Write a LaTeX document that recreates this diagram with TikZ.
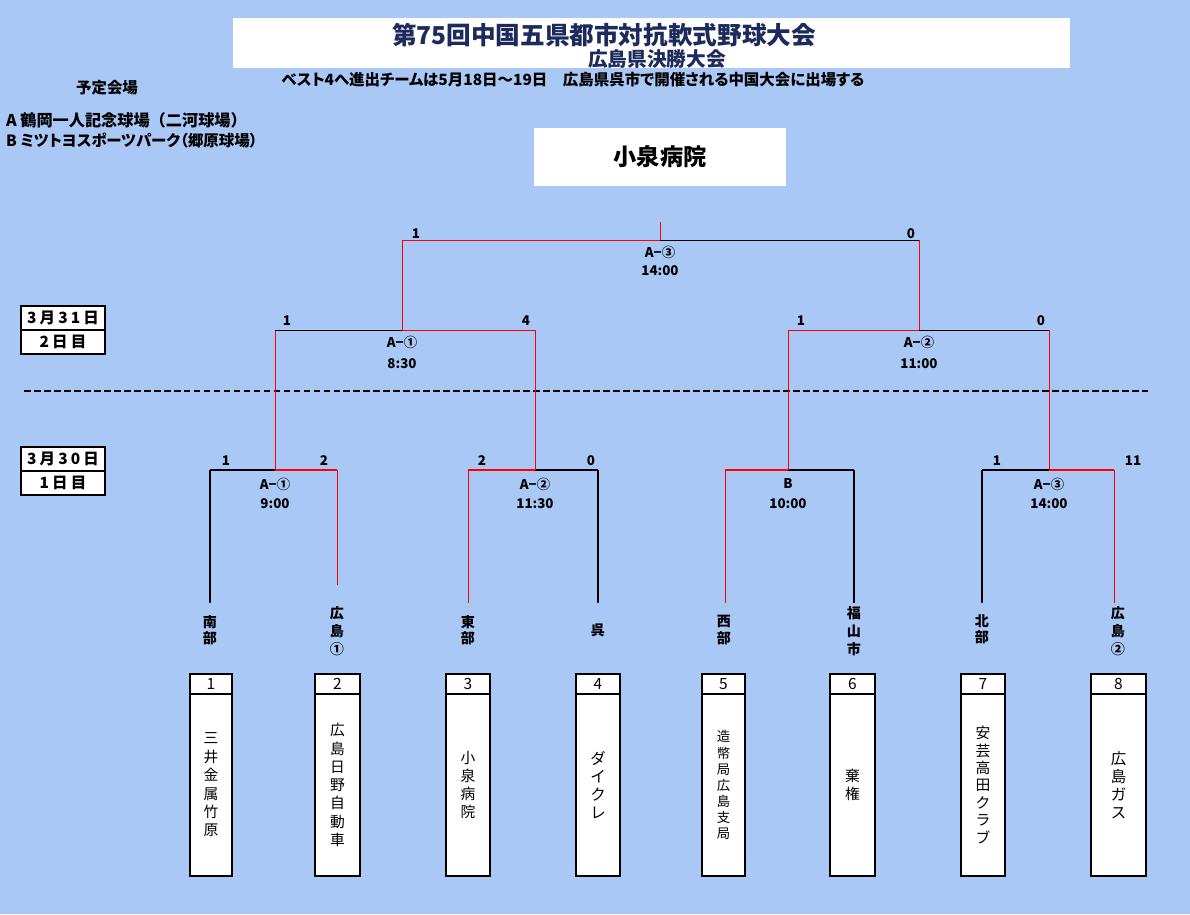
\documentclass[tikz,border=0pt]{standalone}
\usepackage{fontspec}
\usepackage{graphicx}
\setmainfont{Noto Sans CJK JP}
\newfontfamily\jpp{Noto Sans CJK JP}[RawFeature=+palt]
\newfontfamily\jpls{Noto Sans CJK JP}[LetterSpace=20]
\definecolor{bgblue}{RGB}{170,200,246}
\definecolor{navy}{RGB}{28,42,92}
\begin{document}
\begin{tikzpicture}[x=0.025cm,y=-0.025cm,
  every node/.style={inner sep=0pt,outer sep=0pt},
  bft/.style={font=\bfseries\fontsize{#1}{#1}\selectfont},
  sc/.style={font=\bfseries\fontsize{9.5}{9.5}\selectfont},
  ml/.style={font=\bfseries\fontsize{9.5}{9.5}\selectfont},
  vlab/.style={align=center,font=\bfseries\fontsize{10}{#1}\selectfont},
  hw/.style={draw=red,line width=1.3pt},
  hl/.style={draw=black,line width=1.3pt},
  vw/.style={draw=red,line width=0.7pt},
  vl/.style={draw=black,line width=0.8pt},
  vlt/.style={draw=black,line width=1.3pt},
  tw/.style={draw=red,line width=0.7pt},
  tl/.style={draw=black,line width=0.7pt},
  teambox/.style={draw=black,line width=1.2pt,fill=white},
  datebox/.style={draw=black,line width=1.2pt,fill=white,minimum width=2.1cm,minimum height=0.59cm,font=\jpls\bfseries\fontsize{11}{11}\selectfont},
]
\useasboundingbox (0,0) rectangle (1190,914);
\fill[bgblue] (0,0) rectangle (1190,914);

% title block
\fill[white] (233,18) rectangle (1070,68);
\node[bft=17.5,text=navy] (title) at (604,35) {第75回中国五県都市対抗軟式野球大会};
\node[bft=14,text=navy] (subtitle) at (657,59) {広島県決勝大会};
\node[font=\jpp\bfseries\fontsize{11}{11}\selectfont] (note) at (573,80) {ベスト4へ進出チームは5月18日～19日　広島県呉市で開催される中国大会に出場する};

% venues
\node[bft=11] (venue) at (107,88) {予定会場};
\node[anchor=west,bft=11.5] (venueA) at (6,120) {A 鶴岡一人記念球場（二河球場）};
\node[anchor=west,font=\jpp\bfseries\fontsize{11}{11}\selectfont] (venueB) at (6,141) {B ミツトヨスポーツパーク（郷原球場）};

% champion
\node[fill=white,minimum width=6.3cm,minimum height=1.45cm,bft=16.5] (champ) at (660,157) {小泉病院};

% date boxes
\node[datebox] (d2a) at (63,318) {3月31日};
\node[datebox] (d2b) at (63,342) {2日目};
\node[datebox] (d1a) at (63,459) {3月30日};
\node[datebox] (d1b) at (63,483) {1日目};

% dashed separator
\coordinate (dashL) at (24,391);
\coordinate (dashR) at (1148,391);
\draw[line width=1.2pt,dash pattern=on 4.8pt off 2.3pt] (dashL) -- (dashR);

% team line ends
\coordinate (t1) at (210,603);
\coordinate (t2) at (337,585);
\coordinate (t3) at (468,603);
\coordinate (t4) at (598,603);
\coordinate (t5) at (725,603);
\coordinate (t6) at (854,603);
\coordinate (t7) at (982,603);
\coordinate (t8) at (1114,603);

% round 1
\coordinate (a1L) at (210,470); \coordinate (a1C) at (275,470); \coordinate (a1R) at (337,470);
\coordinate (a2L) at (468,470); \coordinate (a2C) at (535,470); \coordinate (a2R) at (598,470);
\coordinate (a3L) at (725,470); \coordinate (a3C) at (788,470); \coordinate (a3R) at (854,470);
\coordinate (a4L) at (982,470); \coordinate (a4C) at (1049,470); \coordinate (a4R) at (1114,470);

\draw[vl] (a1L) -- (t1); \draw[vw] (a1R) -- (t2);
\draw[hl] (a1L) -- (a1C); \draw[hw] (a1C) -- (a1R);
\draw[vw] (a2L) -- (t3); \draw[vlt] (a2R) -- (t4);
\draw[hw] (a2L) -- (a2C); \draw[hl] (a2C) -- (a2R);
\draw[vw] (a3L) -- (t5); \draw[vl] (a3R) -- (t6);
\draw[hw] (a3L) -- (a3C); \draw[hl] (a3C) -- (a3R);
\draw[vl] (a4L) -- (t7); \draw[vw] (a4R) -- (t8);
\draw[hl] (a4L) -- (a4C); \draw[hw] (a4C) -- (a4R);

% round 2
\coordinate (b1L) at (275,330); \coordinate (b1C) at (402,330); \coordinate (b1R) at (535,330);
\coordinate (b2L) at (788,330); \coordinate (b2C) at (919,330); \coordinate (b2R) at (1049,330);
\draw[vw] (a1C) -- (b1L); \draw[vw] (a2C) -- (b1R);
\draw[tl] (b1L) -- (b1C); \draw[tw] (b1C) -- (b1R);
\draw[vw] (a3C) -- (b2L); \draw[vw] (a4C) -- (b2R);
\draw[tw] (b2L) -- (b2C); \draw[tl] (b2C) -- (b2R);

% final
\coordinate (cL) at (402,240); \coordinate (cC) at (660,240); \coordinate (cR) at (919,240);
\coordinate (cT) at (660,222);
\draw[vw] (b1C) -- (cL); \draw[vw] (b2C) -- (cR);
\draw[tw] (cL) -- (cC); \draw[tl] (cC) -- (cR); \draw[tw] (cC) -- (cT);

% scores
\node[sc] (sF1) at (416,234) {1};
\node[sc] (sF2) at (911,234) {0};
\node[sc] (s21) at (287,321) {1};
\node[sc] (s22) at (526,321) {4};
\node[sc] (s23) at (801,321) {1};
\node[sc] (s24) at (1041,321) {0};
\node[sc] (s11) at (226,461) {1};
\node[sc] (s12) at (324,461) {2};
\node[sc] (s13) at (482,461) {2};
\node[sc] (s14) at (591,461) {0};
\node[sc] (s17) at (997,461) {1};
\node[sc] (s18) at (1133,461) {11};

% match labels
\node[ml] (mF) at (660,252) {A−③};
\node[ml] (mFt) at (660,271) {14:00};
\node[ml] (m21) at (402,342) {A−①};
\node[ml] (m21t) at (402,364) {8:30};
\node[ml] (m22) at (919,342) {A−②};
\node[ml] (m22t) at (919,364) {11:00};
\node[ml] (m11) at (275,484) {A−①};
\node[ml] (m11t) at (275,504) {9:00};
\node[ml] (m12) at (535,484) {A−②};
\node[ml] (m12t) at (535,504) {11:30};
\node[ml] (m13) at (788,484) {B};
\node[ml] (m13t) at (788,504) {10:00};
\node[ml] (m14) at (1049,484) {A−③};
\node[ml] (m14t) at (1049,504) {14:00};

% area labels
\node[vlab=11] (l1) at (210,630) {南\\部};
\node[vlab=12.6] (l2) at (337,631) {広\\島\\①};
\node[vlab=11] (l3) at (468,630) {東\\部};
\node[bft=10] (l4) at (598,630) {呉};
\node[vlab=12] (l5) at (724,630) {西\\部};
\node[vlab=12.6] (l6) at (854,631) {福\\山\\市};
\node[vlab=11.5] (l7) at (982,629) {北\\部};
\node[vlab=12.6] (l8) at (1118,631) {広\\島\\②};

% team boxes
\foreach \n/\xl/\xr/\fs/\sk/\txt in {
  1/190/232/10.5/13.1/{三\\井\\金\\属\\竹\\原},
  2/315/360/10.5/13/{広\\島\\日\\野\\自\\動\\車},
  3/446/490/10.5/12.9/{小\\泉\\病\\院},
  4/576/620/11/12.9/{ダ\\イ\\ク\\レ},
  5/702/745/9.5/11.4/{造\\幣\\局\\広\\島\\支\\局},
  6/830/875/10.5/12.9/{棄\\権},
  7/961/1005/10.5/12.4/{安\\芸\\高\\田\\ク\\ラ\\ブ},
  8/1091/1146/11/12.9/{広\\島\\ガ\\ス}}{
  \draw[teambox] (\xl,674) rectangle (\xr,876);
  \draw[line width=1.2pt] (\xl,694) -- (\xr,694);
  \node[font=\fontsize{11}{11}\selectfont] (num\n) at ({(\xl+\xr)/2},684) {\n};
  \node[align=center,font=\fontsize{\fs}{\sk}\selectfont] (name\n) at ({(\xl+\xr)/2},785) {\txt};
}
\end{tikzpicture}
\end{document}
